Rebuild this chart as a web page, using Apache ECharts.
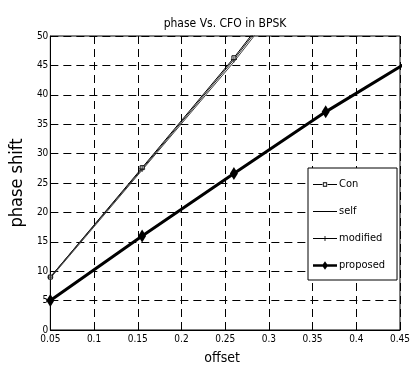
<!DOCTYPE html>
<html>
<head>
<meta charset="utf-8">
<script src="https://cdn.jsdelivr.net/npm/echarts@6/dist/echarts.min.js"></script>
<style>
  html, body { margin: 0; padding: 0; background: #fff; }
  #main { width: 413px; height: 370px; }
</style>
</head>
<body>
<div id="main"></div>
<script>
var offsets = [0.05, 0.155, 0.26, 0.365, 0.47];
var conData = [9, 27.6, 46.3, 66.5, 86];
var selfData = [8.8, 27.2, 45.6, 65.6, 85];
var modifiedData = [9, 27.4, 46.0, 66.1, 85.6];
var proposedData = [5, 16, 26.6, 37.1, 46.6];
var seriesNames = ["Con", "self", "modified", "proposed"];

var font = "DejaVu Sans Condensed, Liberation Sans";

function pairs(vals) {
  return offsets.map(function (x, i) {
    return [x, vals[i]];
  });
}

var myChart = echarts.init(document.getElementById("main"));

var dash = {
  show: true,
  lineStyle: { color: "#000", type: [8, 5], width: 1 },
};

// legend icons: line + marker, all 28x10
var icons = {
  Con: "path://M0,4.5h11v1h-11z M17,4.5h11v1h-11z M0,0h0.01v0.01h-0.01z M0,10h0.01v-0.01h-0.01z M11.5,2.5h5v5h-5z M12.5,3.5v3h3v-3z",
  self: "path://M0,4.5h28v1h-28z M0,0h0.01v0.01h-0.01z M0,10h0.01v-0.01h-0.01z",
  modified: "path://M0,4.5h28v1h-28z M13.5,2h1v6h-1z M0,0h0.01v0.01h-0.01z M0,10h0.01v-0.01h-0.01z",
  proposed: "path://M0,3.5h28v3h-28z M14,0l3.5,5l-3.5,5l-3.5,-5z",
};

option = {
  backgroundColor: "#fff",
  animation: false,
  title: {
    text: "phase Vs. CFO in BPSK",
    left: 220,
    textAlign: "center",
    top: 13,
    textStyle: { color: "#000", fontSize: 12, fontWeight: "normal", fontFamily: font },
  },
  legend: {
    orient: "vertical",
    left: 308,
    top: 168,
    width: 88,
    padding: [11, 12, 9, 5],
    itemGap: 16,
    itemWidth: 24,
    itemHeight: 10,
    backgroundColor: "#fff",
    borderColor: "#000",
    borderWidth: 1,
    borderRadius: 0,
    textStyle: { color: "#000", fontSize: 11, fontFamily: font, padding: [0, 0, 0, -3] },
    data: seriesNames.map(function (n) {
      return { name: n, icon: icons[n], itemStyle: { color: "#000", borderWidth: 0 } };
    }),
  },
  grid: {
    left: 34,
    right: 7,
    top: 36,
    bottom: 34,
    show: true,
    borderColor: "#000",
    borderWidth: 1,
  },
  xAxis: {
    type: "value",
    min: 0.05,
    max: 0.45,
    interval: 0.05,
    name: "offset",
    nameLocation: "middle",
    nameGap: 21,
    nameTextStyle: { color: "#000", fontSize: 14, fontFamily: font, padding: [0, 6, 0, 0] },
    axisLine: { lineStyle: { color: "#000" } },
    axisTick: { inside: true, length: 4, lineStyle: { color: "#000" } },
    axisLabel: {
      color: "#000",
      fontSize: 10,
      fontFamily: font,
      margin: 4,
      formatter: function (v) {
        return String(parseFloat(v.toFixed(2)));
      },
    },
    splitLine: dash,
  },
  yAxis: {
    type: "value",
    min: 0,
    max: 50,
    interval: 5,
    name: "phase shift",
    nameLocation: "middle",
    nameGap: 16,
    nameTextStyle: { color: "#000", fontSize: 18, fontFamily: font },
    axisLine: { lineStyle: { color: "#000" } },
    axisTick: { inside: true, length: 4, lineStyle: { color: "#000" } },
    axisLabel: { color: "#000", fontSize: 10, fontFamily: font, margin: 2 },
    splitLine: dash,
  },
  series: [
    {
      name: "Con",
      type: "line",
      data: pairs(conData),
      symbol: "rect",
      symbolSize: 4,
      lineStyle: { color: "#000", width: 1 },
      itemStyle: { color: "#fff", borderColor: "#000", borderWidth: 1 },
    },
    {
      name: "self",
      type: "line",
      data: pairs(selfData),
      symbol: "none",
      lineStyle: { color: "#444", width: 1 },
      itemStyle: { color: "#444" },
    },
    {
      name: "modified",
      type: "line",
      data: pairs(modifiedData),
      symbol: "path://M0,4 L8,4 M4,0 L4,8",
      symbolSize: 6,
      lineStyle: { color: "#222", width: 1 },
      itemStyle: { color: "#222", borderColor: "#222", borderWidth: 1 },
    },
    {
      name: "proposed",
      type: "line",
      data: pairs(proposedData),
      symbol: "diamond",
      symbolSize: [8, 13],
      lineStyle: { color: "#000", width: 3 },
      itemStyle: { color: "#000" },
    },
  ],
};
myChart.setOption(option);
</script>
</body>
</html>
